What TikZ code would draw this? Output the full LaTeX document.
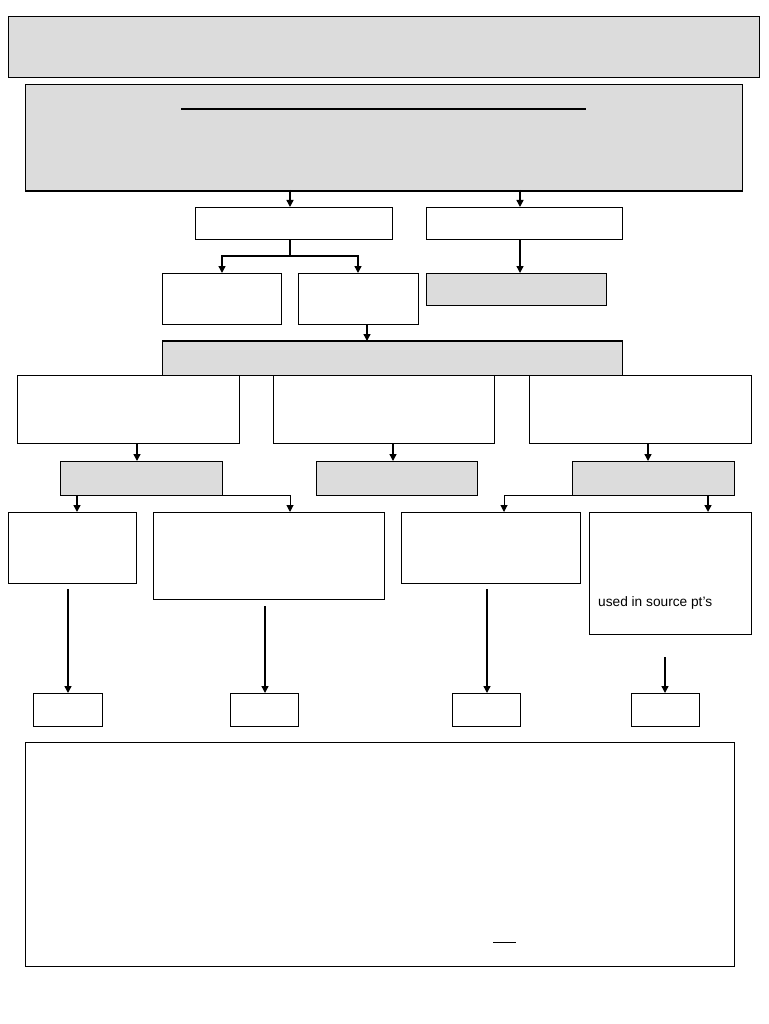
\documentclass[tikz,border=0pt]{standalone}
\usepackage{fontspec}
\setmainfont{Liberation Sans}
\usetikzlibrary{arrows.meta}
\definecolor{boxgray}{HTML}{DCDCDC}
\begin{document}
\begin{tikzpicture}[x=1pt,y=-1pt,
  box/.style={draw=black,line width=1pt,fill=white,inner sep=0pt,anchor=north west},
  gbox/.style={box,fill=boxgray},
  conn/.style={line width=1.4pt},
  arr/.style={conn,-{Triangle[length=7pt,width=7pt]}}]
\useasboundingbox (0,0) rectangle (768,1024);
% top boxes
\node[gbox,minimum width=751,minimum height=61] (t1) at (8,16) {};
\node[gbox,minimum width=717,minimum height=106] (t2) at (25,84) {};
\draw[line width=1.5pt] (t2.south west) -- (t2.south east);
\coordinate (l1) at (181,109); \coordinate (l2) at (586,109);
\draw[line width=1.5pt] (l1) -- (l2);
% second level
\node[box,minimum width=197,minimum height=32] (a) at (195,207) {};
\node[box,minimum width=196,minimum height=32] (b) at (426,207) {};
\coordinate (ta) at (290,190); \coordinate (aa) at (290,207);
\coordinate (tb) at (520,190); \coordinate (bb) at (520,207);
\draw[arr] (ta) -- (aa);
\draw[arr] (tb) -- (bb);
% third level
\node[box,minimum width=119,minimum height=51] (c) at (162,273) {};
\node[box,minimum width=120,minimum height=51] (d) at (298,273) {};
\node[gbox,minimum width=180,minimum height=32] (e) at (426,273) {};
\coordinate (as) at (290,239); \coordinate (aj) at (290,256);
\coordinate (cj) at (222,256); \coordinate (dj) at (358,256);
\coordinate (ct) at (222,273); \coordinate (dt) at (358,273);
\draw[conn] (as) -- (aj);
\draw[arr] (aj) -- (cj) -- (ct);
\draw[arr] (aj) -- (dj) -- (dt);
\coordinate (bs) at (520,239); \coordinate (et) at (520,273);
\draw[arr] (bs) -- (et);
% big gray
\node[gbox,minimum width=460,minimum height=34] (f) at (162,341) {};
\draw[line width=1.5pt] (f.north west) -- (f.north east);
\coordinate (ds) at (367,324); \coordinate (ft) at (367,341);
\draw[arr] (ds) -- (ft);
% three white boxes
\node[box,minimum width=222,minimum height=68] (g1) at (17,375) {};
\node[box,minimum width=221,minimum height=68] (g2) at (273,375) {};
\node[box,minimum width=222,minimum height=68] (g3) at (529,375) {};
\node[gbox,minimum width=162,minimum height=34] (h1) at (60,461) {};
\node[gbox,minimum width=161,minimum height=34] (h2) at (316,461) {};
\node[gbox,minimum width=162,minimum height=34] (h3) at (572,461) {};
\coordinate (g1s) at (137,443); \coordinate (h1t) at (137,461);
\coordinate (g2s) at (393,443); \coordinate (h2t) at (393,461);
\coordinate (g3s) at (648,443); \coordinate (h3t) at (648,461);
\draw[arr] (g1s) -- (h1t);
\draw[arr] (g2s) -- (h2t);
\draw[arr] (g3s) -- (h3t);
% fourth level
\node[box,minimum width=128,minimum height=71] (i1) at (8,512) {};
\node[box,minimum width=231,minimum height=87] (i2) at (153,512) {};
\node[box,minimum width=179,minimum height=71] (i3) at (401,512) {};
\node[box,minimum width=162,minimum height=122] (i4) at (589,512) {};
\node[anchor=west,inner sep=0pt,font=\fontsize{13.7}{16}\selectfont] (txt) at (598,603) {used in source pt's};
\coordinate (h1a) at (77,495); \coordinate (i1t) at (77,512);
\coordinate (h1r) at (222,495); \coordinate (h1c) at (290,495); \coordinate (i2t) at (290,512);
\coordinate (h3l) at (572,495); \coordinate (h3c) at (504,495); \coordinate (i3t) at (504,512);
\coordinate (h3a) at (708,495); \coordinate (i4t) at (708,512);
\draw[arr] (h1a) -- (i1t);
\draw[arr,line width=1pt] (h1r) -- (h1c) -- (i2t);
\draw[arr,line width=1pt] (h3l) -- (h3c) -- (i3t);
\draw[arr] (h3a) -- (i4t);
% small boxes
\node[box,minimum width=69,minimum height=33] (j1) at (33,693) {};
\node[box,minimum width=68,minimum height=33] (j2) at (230,693) {};
\node[box,minimum width=68,minimum height=33] (j3) at (452,693) {};
\node[box,minimum width=68,minimum height=33] (j4) at (631,693) {};
\coordinate (k1) at (68,589); \coordinate (j1t) at (68,693);
\coordinate (k2) at (265,606); \coordinate (j2t) at (265,693);
\coordinate (k3) at (487,589); \coordinate (j3t) at (487,693);
\coordinate (k4) at (665,657); \coordinate (j4t) at (665,693);
\draw[arr] (k1) -- (j1t);
\draw[arr] (k2) -- (j2t);
\draw[arr] (k3) -- (j3t);
\draw[arr] (k4) -- (j4t);
% bottom box
\node[box,minimum width=709,minimum height=224] (bot) at (25,742) {};
\coordinate (u1) at (493,942); \coordinate (u2) at (516,942);
\draw[line width=1pt] (u1) -- (u2);
\end{tikzpicture}
\end{document}
